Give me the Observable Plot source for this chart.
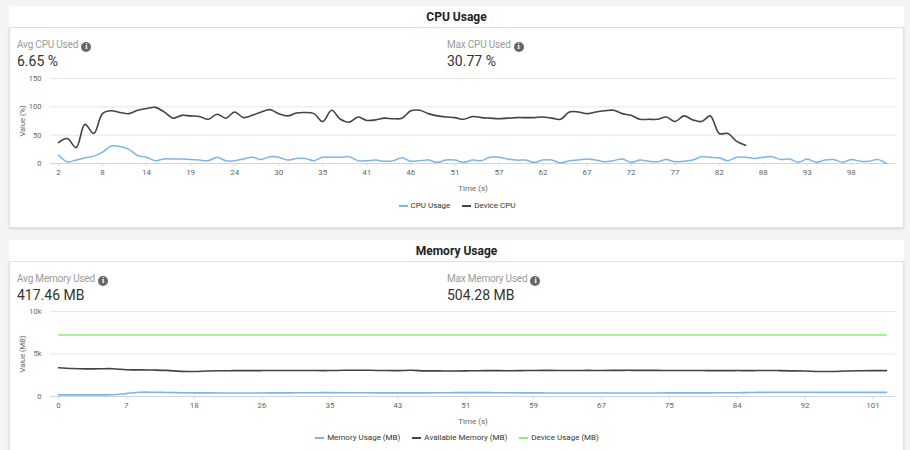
<!DOCTYPE html>
<html><head><meta charset="utf-8">
<script src="https://cdn.jsdelivr.net/npm/d3@7"></script>
<script src="https://cdn.jsdelivr.net/npm/@observablehq/plot@0.6"></script>
<style>
html,body{margin:0;padding:0;}
body{background:#f4f4f4;width:910px;height:450px;overflow:hidden;position:relative;font-family:"Roboto",sans-serif;}
.card{position:absolute;left:9px;width:895px;}
.head{position:absolute;left:0;right:0;top:0;height:21px;background:#fff;text-align:center;font-weight:bold;font-size:12px;color:#222;line-height:23px;}
.body{position:absolute;left:0;right:0;top:21px;bottom:0;background:#fff;border:1px solid #e1e1e1;box-shadow:0 1px 2px rgba(0,0,0,0.12);box-sizing:border-box;}
.stat{position:absolute;}
.stat .lbl{font-size:10px;color:#9a9a9a;line-height:12px;white-space:nowrap;letter-spacing:-0.2px;}
.stat .val{font-size:14px;color:#333;line-height:16px;margin-top:1px;white-space:nowrap;}
.info{display:inline-block;width:10px;height:10px;border-radius:50%;background:#666;color:#fff;font-size:8px;font-weight:bold;line-height:10px;text-align:center;vertical-align:-1px;margin-left:3px;font-family:"Liberation Serif",serif;}
.chart{position:absolute;left:10px;}
.legend{position:absolute;left:10px;width:894px;text-align:center;font-size:8px;color:#333;line-height:10px;white-space:nowrap;}
.legend span.item{display:inline-block;margin:0 6px;}
.legend span.sw{display:inline-block;width:9px;height:1.5px;vertical-align:middle;margin-right:3px;}
</style>
</head><body>
<div class="card" style="top:6px;height:222px;">
  <div class="head">CPU Usage</div>
  <div class="body"></div>
</div>
<div class="card" style="top:240px;height:215px;">
  <div class="head">Memory Usage</div>
  <div class="body"></div>
</div>

<div class="stat" style="left:17px;top:39px;"><div class="lbl">Avg CPU Used<span class="info">i</span></div><div class="val">6.65 %</div></div>
<div class="stat" style="left:447px;top:39px;"><div class="lbl">Max CPU Used<span class="info">i</span></div><div class="val">30.77 %</div></div>
<div class="stat" style="left:17px;top:273px;"><div class="lbl">Avg Memory Used<span class="info">i</span></div><div class="val">417.46 MB</div></div>
<div class="stat" style="left:447px;top:273px;"><div class="lbl">Max Memory Used<span class="info">i</span></div><div class="val">504.28 MB</div></div>

<div id="cpu" class="chart" style="top:72px;"></div>
<div id="cpuLegend" class="legend" style="top:201px;"></div>
<div id="mem" class="chart" style="top:305px;"></div>
<div id="memLegend" class="legend" style="top:433px;"></div>

<script>
// ---- CPU chart data (one sample per index; every 5th sample is labelled) ----
const cpuTickLabels = [2, 8, 14, 19, 24, 30, 35, 41, 46, 51, 57, 62, 67, 72, 77, 82, 88, 93, 98];
const cpuUsage = [
  15, 3, 6, 10, 13, 20, 31, 30, 25, 14,
  11, 5, 8, 8, 8, 7, 6, 5, 11, 5,
  5, 8, 11, 7, 12, 11, 6, 9, 9, 5,
  11, 11, 11, 12, 5, 5, 6, 4, 5, 10,
  4, 5, 6, 2, 6, 6, 2, 6, 5, 11,
  11, 8, 6, 6, 2, 6, 6, 1, 5, 6,
  8, 6, 3, 5, 8, 2, 6, 4, 3, 7,
  3, 4, 6, 12, 11, 10, 5, 11, 11, 9,
  11, 12, 7, 8, 2, 8, 2, 6, 7, 2,
  7, 4, 4, 7, 0
];
const deviceCpu = [
  37, 44, 28, 69, 53, 88, 93, 90, 88, 94,
  97, 99, 91, 80, 85, 84, 83, 78, 87, 80,
  91, 81, 85, 91, 95, 88, 84, 89, 90, 88,
  74, 94, 78, 73, 82, 76, 77, 80, 79, 80,
  93, 94, 88, 84, 82, 81, 78, 83, 81, 80,
  79, 80, 81, 81, 81, 82, 80, 78, 91, 91,
  88, 91, 93, 94, 88, 85, 78, 78, 78, 82,
  74, 84, 77, 74, 84, 53, 53, 39, 32
];
const cpuYTicks = [0, 50, 100, 150];

// ---- Memory chart data ----
const memTickLabels = [0, 7, 18, 26, 35, 43, 51, 59, 67, 75, 84, 92, 101];
const memUsage = [
  190, 190, 190, 195, 200, 350, 500, 504, 470, 445,
  430, 425, 420, 420, 420, 420, 425, 430, 440, 450,
  455, 450, 440, 435, 430, 430, 430, 430, 440, 450,
  460, 460, 450, 440, 430, 425, 420, 420, 420, 420,
  420, 420, 420, 420, 420, 425, 430, 430, 430, 440,
  450, 470, 490, 500, 500, 495, 490, 485, 480, 480,
  480, 480
];
const availableMemory = [
  3390, 3300, 3250, 3260, 3270, 3140, 3130, 3110, 3070, 2960,
  2950, 3000, 3030, 3040, 3040, 3050, 3060, 3050, 3060, 3050,
  3050, 3080, 3090, 3080, 3050, 3050, 3080, 3020, 3010, 3000,
  3020, 3030, 3050, 3030, 3040, 3060, 3070, 3060, 3060, 3070,
  3060, 3070, 3080, 3070, 3070, 3060, 3060, 3060, 3040, 3040,
  3050, 3040, 3060, 3050, 3020, 3000, 2950, 2950, 3000, 3030,
  3040, 3040
];
const deviceUsage = [
  7240, 7240, 7240, 7240, 7240, 7240, 7240, 7240, 7240, 7240,
  7240, 7240, 7240, 7240, 7240, 7240, 7240, 7240, 7240, 7240,
  7240, 7240, 7240, 7240, 7240, 7240, 7240, 7240, 7240, 7240,
  7240, 7240, 7240, 7240, 7240, 7240, 7240, 7240, 7240, 7240,
  7240, 7240, 7240, 7240, 7240, 7240, 7240, 7240, 7240, 7240,
  7240, 7240, 7240, 7240, 7240, 7240, 7240, 7240, 7240, 7240,
  7240, 7240
];
const memYTicks = [0, 5000, 10000];

const labelStep = 5;
const FONT = '"Roboto",sans-serif';
const C_BLUE = "#7cb5ec", C_BLACK = "#434348", C_GREEN = "#90ed7d";

function lineChart({series, nPoints, tickLabels, yDomain, yTicks, yFormat, yLabel}) {
  const xTicks = tickLabels.map((_, k) => k * labelStep);
  return Plot.plot({
    width: 894, height: 122,
    marginLeft: 40, marginRight: 9, marginTop: 6, marginBottom: 31,
    style: {fontFamily: FONT, fontSize: "8px", color: "#666", background: "transparent", overflow: "visible"},
    x: {domain: [0, nPoints - 1], insetLeft: 8, insetRight: 9},
    y: {domain: yDomain},
    marks: [
      Plot.gridY(yTicks.filter(t => t > 0), {stroke: "#e6e6e6", strokeOpacity: 1}),
      Plot.axisY(yTicks, {tickSize: 0, tickPadding: 9, tickFormat: yFormat, fill: "#666",
        label: yLabel, labelAnchor: "center", labelArrow: "none", labelOffset: 31, fontSize: 7.5}),
      Plot.axisX(xTicks, {tickSize: 3, tickPadding: 3, stroke: "#ccd6eb", fill: "#666",
        tickFormat: i => tickLabels[i / labelStep],
        label: "Time (s)", labelAnchor: "center", labelArrow: "none", labelOffset: 27}),
      Plot.ruleY([yDomain[0]], {stroke: "#ccd6eb"}),
      ...series.map(s => Plot.lineY(s.values, {x: (d, i) => i, y: d => d, stroke: s.color,
        strokeWidth: s.width || 1.5, curve: "catmull-rom"}))
    ]
  });
}

document.getElementById("cpu").append(lineChart({
  series: [
    {values: deviceCpu, color: C_BLACK, width: 1.6},
    {values: cpuUsage, color: C_BLUE, width: 1.5}
  ],
  nPoints: cpuUsage.length,
  tickLabels: cpuTickLabels,
  yDomain: [0, 150], yTicks: cpuYTicks, yFormat: d => String(d),
  yLabel: "Value (%)"
}));

document.getElementById("mem").append(lineChart({
  series: [
    {values: deviceUsage, color: C_GREEN, width: 1.6},
    {values: availableMemory, color: C_BLACK, width: 1.6},
    {values: memUsage, color: C_BLUE, width: 1.6}
  ],
  nPoints: memUsage.length,
  tickLabels: memTickLabels,
  yDomain: [0, 10000], yTicks: memYTicks, yFormat: d => d === 0 ? "0" : (d / 1000) + "k",
  yLabel: "Value (MB)"
}));

function legend(el, items) {
  el.innerHTML = items.map(it =>
    `<span class="item"><span class="sw" style="background:${it.color}"></span>${it.name}</span>`).join("");
}
legend(document.getElementById("cpuLegend"), [
  {name: "CPU Usage", color: C_BLUE}, {name: "Device CPU", color: C_BLACK}
]);
legend(document.getElementById("memLegend"), [
  {name: "Memory Usage (MB)", color: C_BLUE}, {name: "Available Memory (MB)", color: C_BLACK},
  {name: "Device Usage (MB)", color: C_GREEN}
]);
</script>
</body></html>
